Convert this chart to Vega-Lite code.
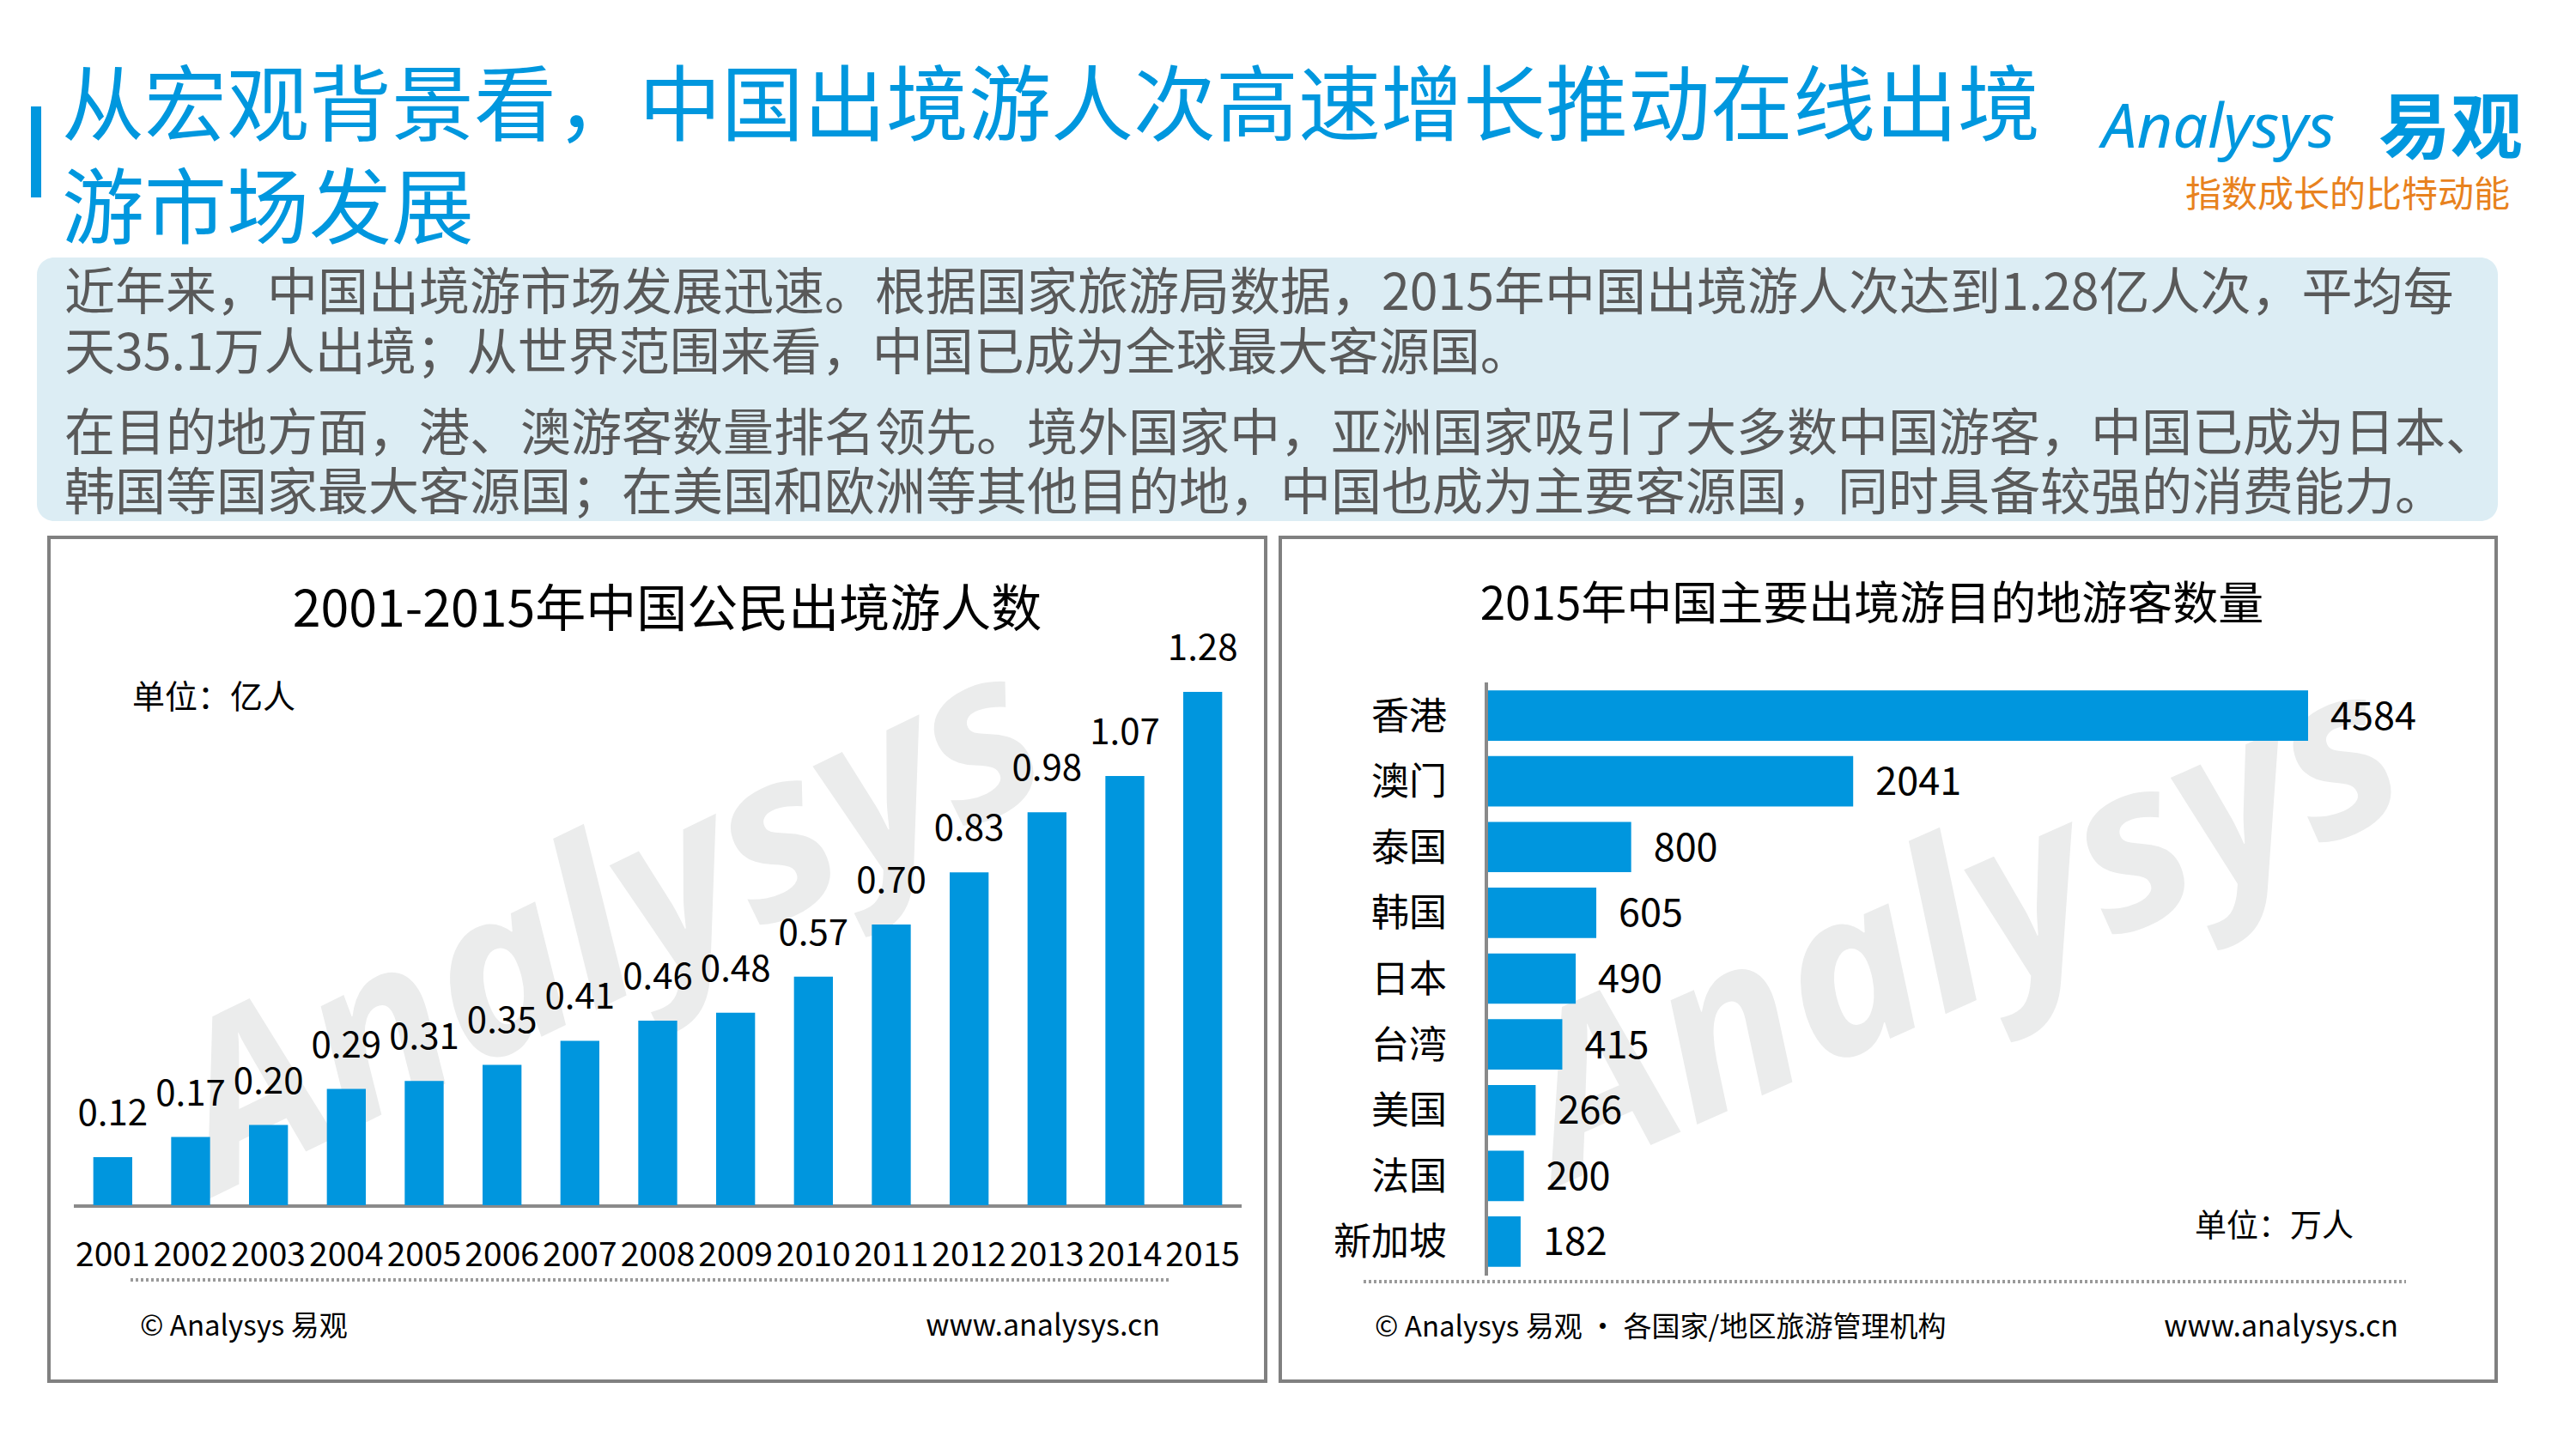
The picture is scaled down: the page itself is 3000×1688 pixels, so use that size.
{
  "$schema": "https://vega.github.io/schema/vega-lite/v6.json",
  "width": 3000,
  "height": 1688,
  "autosize": {"type": "none"},
  "padding": 0,
  "background": "#ffffff",
  "config": {"view": {"stroke": null}, "axis": {"disable": true}, "font": "Noto Sans CJK SC"},
  "resolve": {"scale": {"x": "independent", "y": "independent"}},
  "layer": [
    {
      "layer": [
        {
          "data": {"values": [{"item": "summary box"}]},
          "mark": {"type": "rect", "fill": "#dcedf4", "cornerRadius": 20},
          "encoding": {
            "x": {"datum": 43, "type": "quantitative", "scale": {"domain": [0, 3000], "range": [0, 3000]}, "axis": null},
            "x2": {"datum": 2909},
            "y": {"datum": 300, "type": "quantitative", "scale": {"domain": [0, 1688], "range": [0, 1688]}, "axis": null},
            "y2": {"datum": 607}
          }
        },
        {
          "data": {"values": [{"item": "left panel"}]},
          "mark": {"type": "rect", "fill": "#ffffff", "fillOpacity": 0, "stroke": "#808080", "strokeWidth": 4},
          "encoding": {
            "x": {"datum": 57, "type": "quantitative", "scale": {"domain": [0, 3000], "range": [0, 3000]}, "axis": null},
            "x2": {"datum": 1474},
            "y": {"datum": 626, "type": "quantitative", "scale": {"domain": [0, 1688], "range": [0, 1688]}, "axis": null},
            "y2": {"datum": 1609}
          }
        },
        {
          "data": {"values": [{"item": "right panel"}]},
          "mark": {"type": "rect", "fill": "#ffffff", "fillOpacity": 0, "stroke": "#808080", "strokeWidth": 4},
          "encoding": {
            "x": {"datum": 1491, "type": "quantitative", "scale": {"domain": [0, 3000], "range": [0, 3000]}, "axis": null},
            "x2": {"datum": 2907},
            "y": {"datum": 626, "type": "quantitative", "scale": {"domain": [0, 1688], "range": [0, 1688]}, "axis": null},
            "y2": {"datum": 1609}
          }
        },
        {
          "data": {"values": [{"t": "Analysys"}]},
          "mark": {"type": "text", "font": "Noto Sans", "fontStyle": "italic", "fontWeight": "bold", "fontSize": 265, "angle": -26, "align": "center", "baseline": "middle", "fill": "#ebecec"},
          "encoding": {
            "x": {"datum": 710, "type": "quantitative", "scale": {"domain": [0, 3000], "range": [0, 3000]}, "axis": null},
            "y": {"datum": 1080, "type": "quantitative", "scale": {"domain": [0, 1688], "range": [0, 1688]}, "axis": null},
            "text": {"field": "t"}
          }
        },
        {
          "data": {"values": [{"t": "Analysys"}]},
          "mark": {"type": "text", "font": "Noto Sans", "fontStyle": "italic", "fontWeight": "bold", "fontSize": 265, "angle": -24, "align": "center", "baseline": "middle", "fill": "#ebecec"},
          "encoding": {
            "x": {"datum": 2285, "type": "quantitative", "scale": {"domain": [0, 3000], "range": [0, 3000]}, "axis": null},
            "y": {"datum": 1085, "type": "quantitative", "scale": {"domain": [0, 1688], "range": [0, 1688]}, "axis": null},
            "text": {"field": "t"}
          }
        },
        {
          "data": {"values": [{"item": "left baseline"}]},
          "mark": {"type": "rule", "stroke": "#8a8a8a", "strokeWidth": 4},
          "encoding": {
            "x": {"datum": 86, "type": "quantitative", "scale": {"domain": [0, 3000], "range": [0, 3000]}, "axis": null},
            "x2": {"datum": 1446},
            "y": {"datum": 1405, "type": "quantitative", "scale": {"domain": [0, 1688], "range": [0, 1688]}, "axis": null}
          }
        },
        {
          "data": {"values": [{"item": "right axis"}]},
          "mark": {"type": "rule", "stroke": "#8a8a8a", "strokeWidth": 4},
          "encoding": {
            "x": {"datum": 1731, "type": "quantitative", "scale": {"domain": [0, 3000], "range": [0, 3000]}, "axis": null},
            "y": {"datum": 795, "type": "quantitative", "scale": {"domain": [0, 1688], "range": [0, 1688]}, "axis": null},
            "y2": {"datum": 1486}
          }
        },
        {
          "data": {"values": [{"item": "left dotted"}]},
          "mark": {"type": "rule", "stroke": "#9a9a9a", "strokeWidth": 4, "strokeDash": [3, 3]},
          "encoding": {
            "x": {"datum": 152, "type": "quantitative", "scale": {"domain": [0, 3000], "range": [0, 3000]}, "axis": null},
            "x2": {"datum": 1362},
            "y": {"datum": 1491, "type": "quantitative", "scale": {"domain": [0, 1688], "range": [0, 1688]}, "axis": null}
          }
        },
        {
          "data": {"values": [{"item": "right dotted"}]},
          "mark": {"type": "rule", "stroke": "#9a9a9a", "strokeWidth": 4, "strokeDash": [3, 3]},
          "encoding": {
            "x": {"datum": 1588, "type": "quantitative", "scale": {"domain": [0, 3000], "range": [0, 3000]}, "axis": null},
            "x2": {"datum": 2802},
            "y": {"datum": 1493, "type": "quantitative", "scale": {"domain": [0, 1688], "range": [0, 1688]}, "axis": null}
          }
        },
        {
          "data": {"values": [{"item": "title marker"}]},
          "mark": {"type": "rect", "fill": "#0097de"},
          "encoding": {
            "x": {"datum": 36, "type": "quantitative", "scale": {"domain": [0, 3000], "range": [0, 3000]}, "axis": null},
            "x2": {"datum": 48},
            "y": {"datum": 124, "type": "quantitative", "scale": {"domain": [0, 1688], "range": [0, 1688]}, "axis": null},
            "y2": {"datum": 230}
          }
        },
        {
          "data": {"values": [{"t": "从宏观背景看，中国出境游人次高速增长推动在线出境\n游市场发展"}]},
          "mark": {"type": "text", "fontSize": 96, "align": "left", "baseline": "alphabetic", "fill": "#0097de", "lineBreak": "\n", "lineHeight": 120},
          "encoding": {
            "x": {"datum": 72, "type": "quantitative", "scale": {"domain": [0, 3000], "range": [0, 3000]}, "axis": null},
            "y": {"datum": 156, "type": "quantitative", "scale": {"domain": [0, 1688], "range": [0, 1688]}, "axis": null},
            "text": {"field": "t"}
          }
        },
        {
          "data": {"values": [{"t": "Analysys"}]},
          "mark": {"type": "text", "font": "Noto Sans", "fontStyle": "italic", "fontSize": 72, "align": "left", "baseline": "alphabetic", "fill": "#0097de"},
          "encoding": {
            "x": {"datum": 2448, "type": "quantitative", "scale": {"domain": [0, 3000], "range": [0, 3000]}, "axis": null},
            "y": {"datum": 172, "type": "quantitative", "scale": {"domain": [0, 1688], "range": [0, 1688]}, "axis": null},
            "text": {"field": "t"}
          }
        },
        {
          "data": {"values": [{"t": "易观"}]},
          "mark": {"type": "text", "fontSize": 84, "fontWeight": "bold", "align": "left", "baseline": "alphabetic", "fill": "#0097de"},
          "encoding": {
            "x": {"datum": 2770, "type": "quantitative", "scale": {"domain": [0, 3000], "range": [0, 3000]}, "axis": null},
            "y": {"datum": 178, "type": "quantitative", "scale": {"domain": [0, 1688], "range": [0, 1688]}, "axis": null},
            "text": {"field": "t"}
          }
        },
        {
          "data": {"values": [{"t": "指数成长的比特动能"}]},
          "mark": {"type": "text", "fontSize": 42, "align": "left", "baseline": "alphabetic", "fill": "#e8821e"},
          "encoding": {
            "x": {"datum": 2545, "type": "quantitative", "scale": {"domain": [0, 3000], "range": [0, 3000]}, "axis": null},
            "y": {"datum": 241, "type": "quantitative", "scale": {"domain": [0, 1688], "range": [0, 1688]}, "axis": null},
            "text": {"field": "t"}
          }
        },
        {
          "data": {"values": [{"t": "近年来，中国出境游市场发展迅速。根据国家旅游局数据，2015年中国出境游人次达到1.28亿人次，平均每\n天35.1万人出境；从世界范围来看，中国已成为全球最大客源国。"}]},
          "mark": {"type": "text", "fontSize": 59, "align": "left", "baseline": "alphabetic", "fill": "#595959", "lineBreak": "\n", "lineHeight": 70},
          "encoding": {
            "x": {"datum": 75, "type": "quantitative", "scale": {"domain": [0, 3000], "range": [0, 3000]}, "axis": null},
            "y": {"datum": 361, "type": "quantitative", "scale": {"domain": [0, 1688], "range": [0, 1688]}, "axis": null},
            "text": {"field": "t"}
          }
        },
        {
          "data": {"values": [{"t": "在目的地方面，港、澳游客数量排名领先。境外国家中，亚洲国家吸引了大多数中国游客，中国已成为日本、\n韩国等国家最大客源国；在美国和欧洲等其他目的地，中国也成为主要客源国，同时具备较强的消费能力。"}]},
          "mark": {"type": "text", "fontSize": 59, "align": "left", "baseline": "alphabetic", "fill": "#595959", "lineBreak": "\n", "lineHeight": 69},
          "encoding": {
            "x": {"datum": 75, "type": "quantitative", "scale": {"domain": [0, 3000], "range": [0, 3000]}, "axis": null},
            "y": {"datum": 525, "type": "quantitative", "scale": {"domain": [0, 1688], "range": [0, 1688]}, "axis": null},
            "text": {"field": "t"}
          }
        },
        {
          "data": {"values": [{"t": "2001-2015年中国公民出境游人数"}]},
          "mark": {"type": "text", "fontSize": 59, "align": "center", "baseline": "alphabetic", "fill": "#000000"},
          "encoding": {
            "x": {"datum": 777, "type": "quantitative", "scale": {"domain": [0, 3000], "range": [0, 3000]}, "axis": null},
            "y": {"datum": 730, "type": "quantitative", "scale": {"domain": [0, 1688], "range": [0, 1688]}, "axis": null},
            "text": {"field": "t"}
          }
        },
        {
          "data": {"values": [{"t": "单位：亿人"}]},
          "mark": {"type": "text", "fontSize": 38, "align": "left", "baseline": "alphabetic", "fill": "#000000"},
          "encoding": {
            "x": {"datum": 154, "type": "quantitative", "scale": {"domain": [0, 3000], "range": [0, 3000]}, "axis": null},
            "y": {"datum": 825, "type": "quantitative", "scale": {"domain": [0, 1688], "range": [0, 1688]}, "axis": null},
            "text": {"field": "t"}
          }
        },
        {
          "data": {"values": [{"t": "© Analysys 易观"}]},
          "mark": {"type": "text", "fontSize": 33, "align": "left", "baseline": "alphabetic", "fill": "#000000"},
          "encoding": {
            "x": {"datum": 163, "type": "quantitative", "scale": {"domain": [0, 3000], "range": [0, 3000]}, "axis": null},
            "y": {"datum": 1556, "type": "quantitative", "scale": {"domain": [0, 1688], "range": [0, 1688]}, "axis": null},
            "text": {"field": "t"}
          }
        },
        {
          "data": {"values": [{"t": "www.analysys.cn"}]},
          "mark": {"type": "text", "fontSize": 34, "align": "right", "baseline": "alphabetic", "fill": "#000000"},
          "encoding": {
            "x": {"datum": 1351, "type": "quantitative", "scale": {"domain": [0, 3000], "range": [0, 3000]}, "axis": null},
            "y": {"datum": 1556, "type": "quantitative", "scale": {"domain": [0, 1688], "range": [0, 1688]}, "axis": null},
            "text": {"field": "t"}
          }
        },
        {
          "data": {"values": [{"t": "2015年中国主要出境游目的地游客数量"}]},
          "mark": {"type": "text", "fontSize": 53, "align": "center", "baseline": "alphabetic", "fill": "#000000"},
          "encoding": {
            "x": {"datum": 2180, "type": "quantitative", "scale": {"domain": [0, 3000], "range": [0, 3000]}, "axis": null},
            "y": {"datum": 722, "type": "quantitative", "scale": {"domain": [0, 1688], "range": [0, 1688]}, "axis": null},
            "text": {"field": "t"}
          }
        },
        {
          "data": {"values": [{"t": "单位：万人"}]},
          "mark": {"type": "text", "fontSize": 37, "align": "left", "baseline": "alphabetic", "fill": "#000000"},
          "encoding": {
            "x": {"datum": 2556, "type": "quantitative", "scale": {"domain": [0, 3000], "range": [0, 3000]}, "axis": null},
            "y": {"datum": 1441, "type": "quantitative", "scale": {"domain": [0, 1688], "range": [0, 1688]}, "axis": null},
            "text": {"field": "t"}
          }
        },
        {
          "data": {"values": [{"t": "© Analysys 易观 · 各国家/地区旅游管理机构"}]},
          "mark": {"type": "text", "fontSize": 33, "align": "left", "baseline": "alphabetic", "fill": "#000000"},
          "encoding": {
            "x": {"datum": 1601, "type": "quantitative", "scale": {"domain": [0, 3000], "range": [0, 3000]}, "axis": null},
            "y": {"datum": 1557, "type": "quantitative", "scale": {"domain": [0, 1688], "range": [0, 1688]}, "axis": null},
            "text": {"field": "t"}
          }
        },
        {
          "data": {"values": [{"t": "www.analysys.cn"}]},
          "mark": {"type": "text", "fontSize": 34, "align": "right", "baseline": "alphabetic", "fill": "#000000"},
          "encoding": {
            "x": {"datum": 2793, "type": "quantitative", "scale": {"domain": [0, 3000], "range": [0, 3000]}, "axis": null},
            "y": {"datum": 1557, "type": "quantitative", "scale": {"domain": [0, 1688], "range": [0, 1688]}, "axis": null},
            "text": {"field": "t"}
          }
        }
      ]
    },
    {
      "data": {"values": [
        {"year": "2001", "value": 0.12},
        {"year": "2002", "value": 0.17},
        {"year": "2003", "value": 0.20},
        {"year": "2004", "value": 0.29},
        {"year": "2005", "value": 0.31},
        {"year": "2006", "value": 0.35},
        {"year": "2007", "value": 0.41},
        {"year": "2008", "value": 0.46},
        {"year": "2009", "value": 0.48},
        {"year": "2010", "value": 0.57},
        {"year": "2011", "value": 0.70},
        {"year": "2012", "value": 0.83},
        {"year": "2013", "value": 0.98},
        {"year": "2014", "value": 1.07},
        {"year": "2015", "value": 1.28}
      ]},
      "encoding": {
        "x": {"field": "year", "type": "nominal", "sort": null, "scale": {"range": [86, 1446], "paddingInner": 0.5, "paddingOuter": 0.25}, "axis": null}
      },
      "layer": [
        {
          "mark": {"type": "bar", "fill": "#0096de"},
          "encoding": {
            "y": {"field": "value", "type": "quantitative", "scale": {"domain": [0, 1.28], "range": [1404, 806], "nice": false, "zero": true}, "axis": null}
          }
        },
        {
          "mark": {"type": "text", "fontSize": 42, "align": "center", "baseline": "alphabetic", "dy": -37, "fill": "#000000"},
          "encoding": {
            "y": {"field": "value", "type": "quantitative", "axis": null},
            "text": {"field": "value", "type": "quantitative", "format": ".2f"}
          }
        },
        {
          "mark": {"type": "text", "fontSize": 39, "align": "center", "baseline": "alphabetic", "dy": 71, "fill": "#000000"},
          "encoding": {
            "y": {"datum": 0, "type": "quantitative", "axis": null},
            "text": {"field": "year"}
          }
        }
      ]
    },
    {
      "data": {"values": [
        {"place": "香港", "visitors": 4584},
        {"place": "澳门", "visitors": 2041},
        {"place": "泰国", "visitors": 800},
        {"place": "韩国", "visitors": 605},
        {"place": "日本", "visitors": 490},
        {"place": "台湾", "visitors": 415},
        {"place": "美国", "visitors": 266},
        {"place": "法国", "visitors": 200},
        {"place": "新加坡", "visitors": 182}
      ]},
      "encoding": {
        "y": {"field": "place", "type": "nominal", "sort": null, "scale": {"range": [795, 1485], "paddingInner": 0.234, "paddingOuter": 0.12}, "axis": null}
      },
      "layer": [
        {
          "mark": {"type": "bar", "fill": "#0096de"},
          "encoding": {
            "x": {"field": "visitors", "type": "quantitative", "scale": {"domain": [0, 4584], "range": [1733, 2688], "nice": false, "zero": true}, "axis": null}
          }
        },
        {
          "mark": {"type": "text", "fontSize": 45, "align": "left", "baseline": "alphabetic", "dx": 26, "dy": 16, "fill": "#000000"},
          "encoding": {
            "x": {"field": "visitors", "type": "quantitative", "axis": null},
            "text": {"field": "visitors", "type": "quantitative", "format": "d"}
          }
        },
        {
          "mark": {"type": "text", "fontSize": 44, "align": "right", "baseline": "alphabetic", "dx": -48, "dy": 16, "fill": "#000000"},
          "encoding": {
            "x": {"datum": 0, "type": "quantitative", "axis": null},
            "text": {"field": "place"}
          }
        }
      ]
    }
  ]
}
